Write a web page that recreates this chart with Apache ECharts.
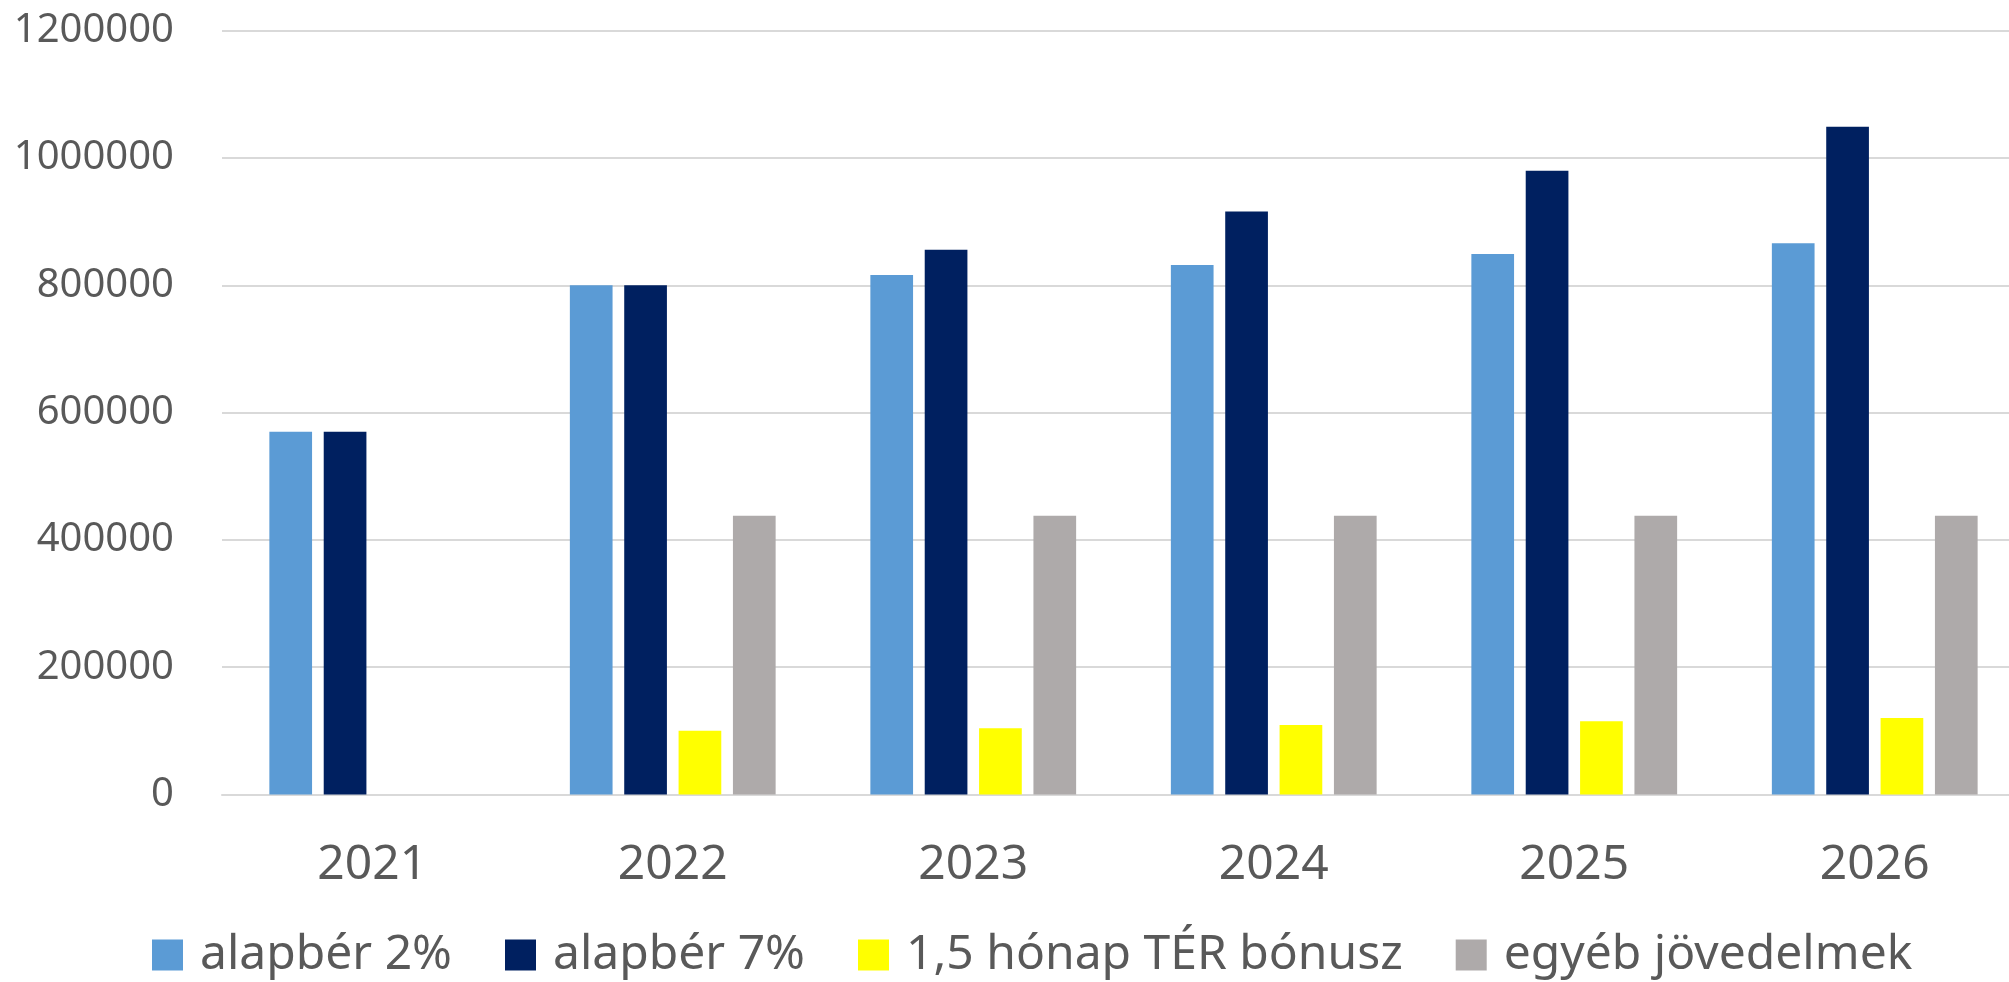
<!DOCTYPE html>
<html>
<head>
<meta charset="utf-8">
<script src="https://cdn.jsdelivr.net/npm/echarts@6/dist/echarts.min.js"></script>
<style>
html,body{margin:0;padding:0;background:#fff;}
#chart{width:2009px;height:982px;}
</style>
</head>
<body>
<div id="chart"></div>
<script>
const categories = ['2021', '2022', '2023', '2024', '2025', '2026'];
const seriesNames = ['alapbér 2%', 'alapbér 7%', '1,5 hónap TÉR bónusz', 'egyéb jövedelmek'];
const alapber2 = [570000, 800000, 816000, 832000, 849000, 866000];
const alapber7 = [570000, 800000, 856000, 916000, 980000, 1049000];
const terBonusz = [null, 100000, 104000, 109000, 115000, 120000];
const egyebJov = [null, 438000, 438000, 438000, 438000, 438000];
const yTicks = { min: 0, max: 1200000, interval: 200000 };

const colors = ['#5B9BD5', '#002060', '#FFFF00', '#AEAAAA'];
const values = [alapber2, alapber7, terBonusz, egyebJov];
const font = 'Noto Sans';
const textColor = '#595959';

const chart = echarts.init(document.getElementById('chart'), null, { renderer: 'canvas' });
chart.setOption({
  animation: false,
  backgroundColor: '#ffffff',
  color: colors,
  grid: { left: 222, top: 30.7, width: 1803, bottom: 187.6, containLabel: false, outerBoundsMode: 'none' },
  legend: {
    data: seriesNames,
    left: 147,
    top: 926,
    itemWidth: 31,
    itemHeight: 31,
    itemGap: 53,
    icon: 'rect',
    textStyle: { fontFamily: font, fontSize: 48, color: textColor, padding: [0, 0, 0, 12] }
  },
  xAxis: {
    type: 'category',
    data: categories,
    axisLine: { show: true, lineStyle: { color: '#d9d9d9', width: 2 } },
    axisTick: { show: false },
    axisLabel: { fontFamily: font, fontSize: 48, color: textColor, margin: 47 },
    splitLine: { show: false }
  },
  yAxis: {
    type: 'value',
    min: yTicks.min,
    max: yTicks.max,
    interval: yTicks.interval,
    axisLine: { show: false },
    axisTick: { show: false },
    axisLabel: { fontFamily: font, fontSize: 40, color: textColor, margin: 48, formatter: v => String(v) },
    splitLine: { lineStyle: { color: '#d9d9d9', width: 2 } }
  },
  series: seriesNames.map((name, i) => ({
    name: name,
    type: 'bar',
    data: values[i],
    barWidth: 42.7,
    barGap: '27.3%',
    itemStyle: { color: colors[i] }
  }))
});
</script>
</body>
</html>
